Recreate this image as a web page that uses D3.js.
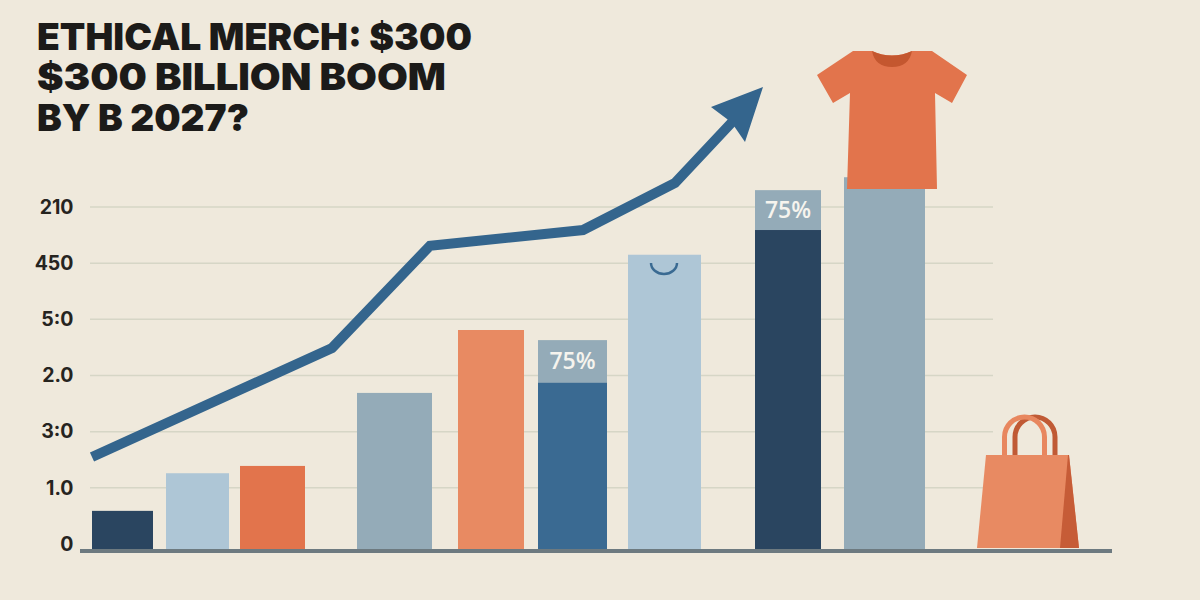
<!DOCTYPE html>
<html>
<head>
<meta charset="utf-8">
<script src="https://cdn.jsdelivr.net/npm/d3@7"></script>
<style>
html,body{margin:0;padding:0;background:#efe9dc;}
svg{display:block;}
</style>
</head>
<body>
<svg id="chart" width="1200" height="600"></svg>
<script>
const titleLines = ["ETHICAL MERCH: $300", "$300 BILLION BOOM", "BY B 2027?"];
const tickLabels = ["0", "1.0", "3:0", "2.0", "5:0", "450", "210"];
const barStart = [0.12, 0.86, 1.60, 2.77, 3.78, 4.58, 5.48, 6.75, 7.64];
const barEnd   = [0.73, 1.49, 2.25, 3.52, 4.44, 5.27, 6.21, 7.41, 8.45];
const barTop   = [0.59, 1.26, 1.39, 2.69, 3.81, 3.63, 5.15, 6.30, 6.53];
const barInner = [null, null, null, null, null, 2.87, null, 5.59, null];
const barLabel = [null, null, null, null, null, "75%", null, "75%", null];
const lineX = [0.12, 2.52, 3.50, 5.03, 5.95, 6.53];
const lineY = [1.55, 3.49, 5.31, 5.59, 6.43, 7.53];

const barColor = ["#2a4560", "#aec6d6", "#e2744c", "#94abb8", "#e88a62", "#94abb8", "#aec6d6", "#94abb8", "#94abb8"];
const innerColor = [null, null, null, null, null, "#3a6a92", null, "#2a4560", null];

const svg = d3.select("#chart");
const x = d3.scaleLinear().domain([0, 10.32]).range([80, 1112]);
const y = d3.scaleLinear().domain([0, 6]).range([544, 207]);
const yTicks = d3.scalePoint().domain(tickLabels).range([544, 207]);
const baseY = 550;

svg.append("rect").attr("width", 1200).attr("height", 600).attr("fill", "#efe9dc");

// title
const titleBaselines = [50, 90, 131];
const titleWidths = [435, 409, 212];
svg.append("g").selectAll("text").data(titleLines).join("text")
  .attr("x", 37)
  .attr("y", (d, i) => titleBaselines[i])
  .attr("textLength", (d, i) => titleWidths[i])
  .attr("lengthAdjust", "spacingAndGlyphs")
  .attr("font-family", "Inter, 'Open Sans', sans-serif")
  .attr("font-weight", 900)
  .attr("font-size", 37.5)
  .attr("fill", "#1c1b19")
  .text(d => d);

// grid
svg.append("g").selectAll("line").data(tickLabels.slice(1)).join("line")
  .attr("x1", x(0.10)).attr("x2", x(9.13))
  .attr("y1", d => yTicks(d)).attr("y2", d => yTicks(d))
  .attr("stroke", "#d6d6c6").attr("stroke-width", 1.5);

// y axis labels
const axis = d3.axisLeft(yTicks).tickSize(0).tickPadding(0);
const gAxis = svg.append("g").attr("transform", "translate(73.5,0)").call(axis);
gAxis.select(".domain").remove();
gAxis.selectAll("text")
  .attr("font-family", "Inter, 'Open Sans', sans-serif")
  .attr("font-weight", 700)
  .attr("font-size", 19.5)
  .attr("fill", "#26241f");

// bars
const bars = svg.append("g");
bars.selectAll("rect.bar").data(barTop).join("rect").attr("class", "bar")
  .attr("x", (d, i) => x(barStart[i]))
  .attr("width", (d, i) => x(barEnd[i]) - x(barStart[i]))
  .attr("y", d => y(d))
  .attr("height", d => baseY - y(d))
  .attr("fill", (d, i) => barColor[i]);
bars.selectAll("rect.inner").data(barInner).join("rect").attr("class", "inner")
  .attr("display", d => d === null ? "none" : null)
  .attr("x", (d, i) => x(barStart[i]))
  .attr("width", (d, i) => x(barEnd[i]) - x(barStart[i]))
  .attr("y", d => d === null ? 0 : y(d))
  .attr("height", d => d === null ? 0 : baseY - y(d))
  .attr("fill", (d, i) => innerColor[i] || "none");
bars.selectAll("text").data(barLabel).join("text")
  .attr("display", d => d === null ? "none" : null)
  .attr("x", (d, i) => (x(barStart[i]) + x(barEnd[i])) / 2)
  .attr("y", (d, i) => d === null ? 0 : (y(barTop[i]) + y(barInner[i])) / 2 + 8)
  .attr("text-anchor", "middle")
  .attr("font-family", "'Open Sans', Inter, sans-serif")
  .attr("font-weight", 600)
  .attr("font-size", 23)
  .attr("fill", "#f6f4ee")
  .text(d => d);

// baseline
svg.append("rect").attr("x", x(0)).attr("width", x(10.32) - x(0))
  .attr("y", baseY - 1).attr("height", 4).attr("fill", "#6d7a80");

// smile on the pale bar
svg.append("path").attr("d", "M651,263 A13,11 0 0 0 677,263")
  .attr("fill", "none").attr("stroke", "#3a6a92").attr("stroke-width", 2.5);

// trend line
const pts = lineX.map((d, i) => [x(d), y(lineY[i])]);
const line = d3.line().x(d => d[0]).y(d => d[1]);
svg.append("path").attr("d", line(pts))
  .attr("fill", "none").attr("stroke", "#34658d").attr("stroke-width", 10)
  .attr("stroke-linejoin", "miter");
svg.append("path").attr("d", "M763,87 L711,107 L727,119 L734,126 L745,142 Z").attr("fill", "#34658d");

// t-shirt
svg.append("path")
  .attr("d", "M872,51 L853,51 L817,75 L833,103 L850,93 L847,189 L937,189 L935,93 L952,103 L967,75 L932,51 L912,51 Q892,60 872,51 Z")
  .attr("fill", "#e2744c");
svg.append("path").attr("d", "M872,51 Q875,67 892,67 Q909,67 912,51 Q892,60 872,51 Z").attr("fill", "#c4572f");

// shopping bag
const bag = svg.append("g");
bag.append("path").attr("d", "M1015,455 L1015,437 A20,20 0 0 1 1055,437 L1055,455")
  .attr("fill", "none").attr("stroke", "#c05a35").attr("stroke-width", 5);
bag.append("path").attr("d", "M1004.5,455 L1004.5,437 A20,20 0 0 1 1044.5,437 L1044.5,455")
  .attr("fill", "none").attr("stroke", "#e8875f").attr("stroke-width", 5);
bag.append("path").attr("d", "M986,455 L1069,455 L1079,548 L977,548 Z").attr("fill", "#e88a62");
bag.append("path").attr("d", "M1068,455 L1069,455 L1079,548 L1060,548 Z").attr("fill", "#c65c37");
</script>
</body>
</html>
